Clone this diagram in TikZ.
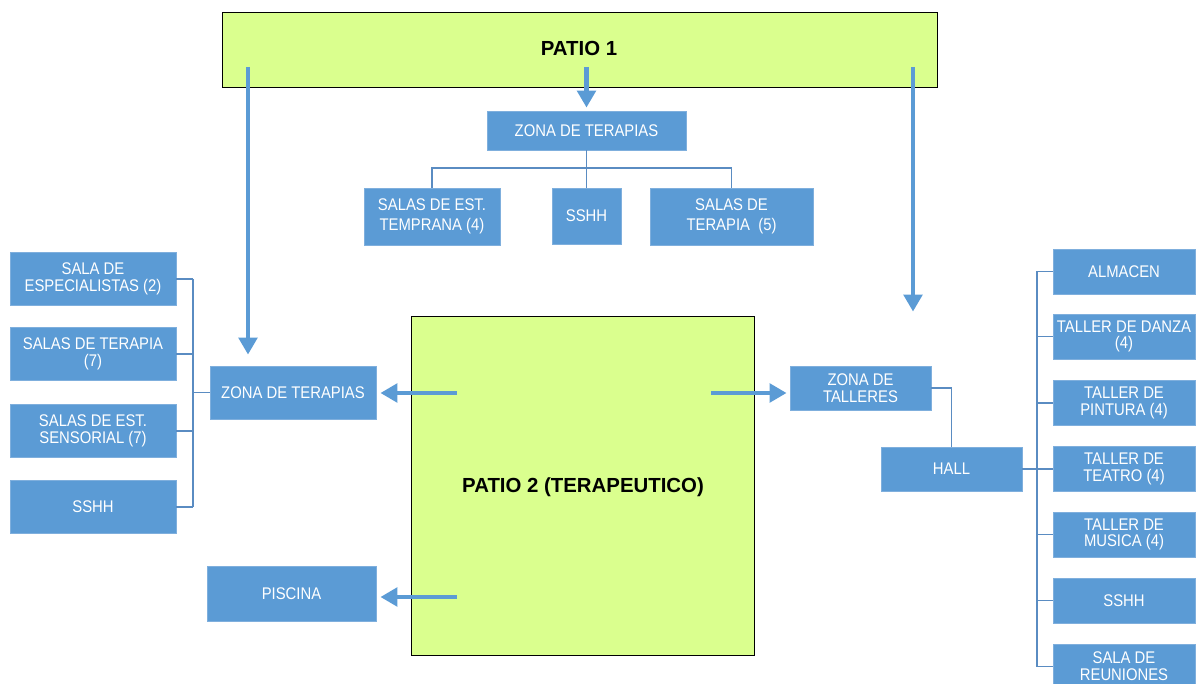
\documentclass[tikz,border=0pt]{standalone}
\usepackage{fontspec}
\setmainfont{Liberation Sans}
\newfontfamily\condsans{Liberation Sans}[FakeStretch=0.88]
\usepackage{tikz}
\usetikzlibrary{arrows.meta,positioning,calc}
\usepackage{xcolor}
\definecolor{roomblue}{HTML}{5B9BD5}
\definecolor{roomedge}{HTML}{7FAFDD}
\definecolor{treeblue}{HTML}{5A8CC2}
\definecolor{patiogreen}{HTML}{DAFF8E}

\begin{document}
\begin{tikzpicture}[x=0.25mm, y=-0.25mm,
  room/.style={draw=roomedge, fill=roomblue, text=white, align=center,
               inner sep=1pt, line width=0.6pt,
               font=\condsans\fontsize{12}{12}\selectfont},
  tallroom/.style={room, font=\condsans\fontsize{12}{14.5}\selectfont},
  patio/.style={draw=black, fill=patiogreen, line width=0.6pt,
                font=\bfseries\fontsize{14.5}{16}\selectfont},
  flow/.style={-{Triangle[width=13pt,length=12pt]}, line width=3.2pt, draw=roomblue},
  tree/.style={draw=treeblue, line width=0.8pt}
]
\useasboundingbox (0,0) rectangle (1197,684);

% patios
\node[patio, minimum width=178.75mm, minimum height=18.75mm] (patioA) at (579.5,49.5) {};
\node[font=\bfseries\fontsize{14.5}{16}\selectfont] (patioAtxt) at (579,48) {PATIO 1};
\node[patio, minimum width=85.75mm, minimum height=84.75mm] (patioB) at (582.5,485.5) {};
\node[font=\bfseries\fontsize{14.5}{16}\selectfont] (patioBtxt) at (583,487) {PATIO 2 (TERAPEUTICO)};

% zona de terapias (patio 1)
\node[tallroom, minimum width=49.75mm, minimum height=9.75mm] (zonaT) at (586.5,130.5) {ZONA DE TERAPIAS};
\node[tallroom, minimum width=34mm, minimum height=14.25mm] (temprana) at (432,216.5) {SALAS DE EST.\\TEMPRANA (4)};
\node[tallroom, minimum width=17.25mm, minimum height=14mm] (sshhT) at (586.5,216) {SSHH};
\node[tallroom, minimum width=40.75mm, minimum height=14.25mm] (terapiaT) at (731.5,216.5) {SALAS DE\\TERAPIA \ (5)};

% zona de terapias (izquierda)
\node[room, minimum width=41.5mm, minimum height=13.25mm] (especial) at (93,279) {SALA DE\\ESPECIALISTAS (2)};
\node[room, minimum width=41.5mm, minimum height=13.25mm] (terapiaL) at (93,354) {SALAS DE TERAPIA\\(7)};
\node[room, minimum width=41.5mm, minimum height=13.25mm] (sensorial) at (93,431) {SALAS DE EST.\\SENSORIAL (7)};
\node[room, minimum width=41.5mm, minimum height=13.25mm] (sshhL) at (93,507) {SSHH};
\node[room, minimum width=41.5mm, minimum height=13.25mm] (zonaL) at (293,392.5) {ZONA DE TERAPIAS};
\node[room, minimum width=42.25mm, minimum height=13.75mm] (piscina) at (291.5,593.5) {PISCINA};

% zona de talleres
\node[room, minimum width=35.25mm, minimum height=11mm] (talleres) at (860.5,388) {ZONA DE\\TALLERES};
\node[room, minimum width=35.25mm, minimum height=11mm] (hall) at (951.5,469) {HALL};
\node[room, minimum width=35.5mm, minimum height=11.25mm] (almacen) at (1124,271.5) {ALMACEN};
\node[room, minimum width=35.5mm, minimum height=11.25mm] (danza) at (1124,336.5) {TALLER DE DANZA\\(4)};
\node[room, minimum width=35.5mm, minimum height=11.25mm] (pintura) at (1124,403) {TALLER DE\\PINTURA (4)};
\node[room, minimum width=35.5mm, minimum height=11.25mm] (teatro) at (1124,469) {TALLER DE\\TEATRO (4)};
\node[room, minimum width=35.5mm, minimum height=11.25mm] (musica) at (1124,534.5) {TALLER DE\\MUSICA (4)};
\node[room, minimum width=35.5mm, minimum height=11.25mm] (sshhR) at (1124,600.5) {SSHH};
\node[room, minimum width=35.5mm, minimum height=11.25mm] (reuniones) at (1124,666.5) {SALA DE\\REUNIONES};

% arrows out of the patios
\coordinate (outAl) at (248,67);
\coordinate (outAm) at (586.5,67);
\coordinate (outAr) at (913,67);
\coordinate (outBl) at (457,393);
\coordinate (outBp) at (457,597);
\coordinate (outBr) at (711,393);
\draw[flow, shorten >=2.75mm] (outAl) -- (outAl |- zonaL.north);
\draw[flow, shorten >=0.75mm] (outAm) -- (zonaT.north);
\draw[flow, shorten >=13.5mm] (outAr) -- (outAr |- talleres.north);
\draw[flow, shorten >=1mm] (outBl) -- (outBl -| zonaL.east);
\draw[flow, shorten >=1mm] (outBp) -- (outBp -| piscina.east);
\draw[flow, shorten >=0.75mm] (outBr) -- (outBr -| talleres.west);

% tree lines
\coordinate (busT) at (586.5,168);
\coordinate (busL) at (193,0);
\coordinate (busR) at (1037,0);
\draw[tree] (zonaT.south) -- (sshhT.north);
\draw[tree] (temprana.north) |- (busT) -| (terapiaT.north);
\draw[tree] (zonaL.west) -- (zonaL.west -| busL);
\draw[tree] (especial.east -| busL) -- (sshhL.east -| busL);
\foreach \n in {especial,terapiaL,sensorial,sshhL}
  \draw[tree] (\n.east) -- (\n.east -| busL);
\draw[tree] (talleres.east) -| (hall.north);
\draw[tree] (hall.east) -- (hall.east -| busR);
\draw[tree] (almacen.west -| busR) -- (reuniones.west -| busR);
\foreach \n in {almacen,danza,pintura,teatro,musica,sshhR,reuniones}
  \draw[tree] (\n.west) -- (\n.west -| busR);
\end{tikzpicture}
\end{document}
